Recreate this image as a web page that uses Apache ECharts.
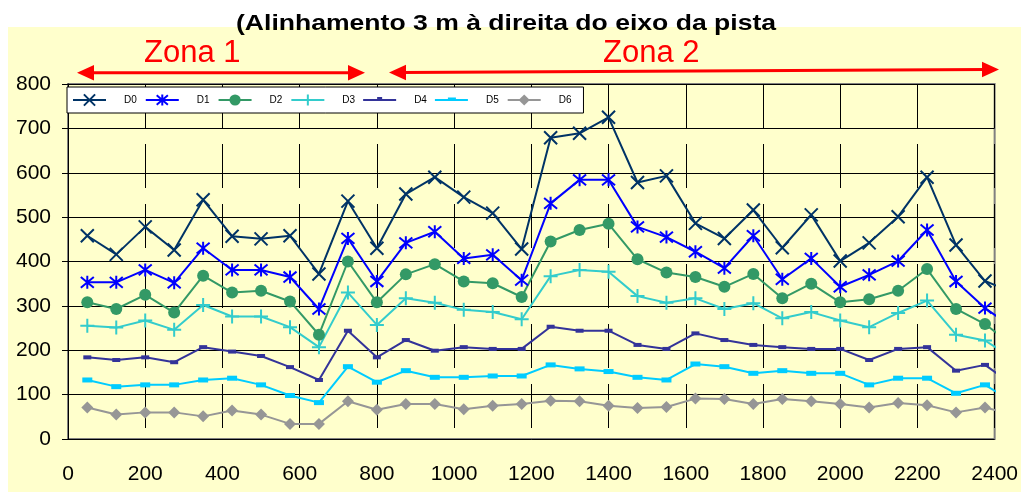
<!DOCTYPE html>
<html>
<head>
<meta charset="utf-8">
<script src="https://cdn.jsdelivr.net/npm/echarts@6/dist/echarts.min.js"></script>
<title>Alinhamento 3 m</title>
<style>html,body{margin:0;padding:0;background:#fff;}</style>
</head>
<body>
<div id="main" style="width:1021px;height:494px;"></div>
<script type="text/javascript">
// distancia ao longo da pista (m) - o ultimo ponto fica fora da escala, como no original
var distancias = [50, 125, 200, 275, 350, 425, 500, 575, 650, 725, 800,
  875, 950, 1025, 1100, 1175, 1250, 1325, 1400, 1475, 1550, 1625,
  1700, 1775, 1850, 1925, 2000, 2075, 2150, 2225, 2300, 2375, 2420];

var D0 = [458, 416, 478, 426, 539, 457, 451, 458, 372, 536, 430,
  552, 590, 545, 509, 428, 679, 689, 725, 578, 593, 486,
  452, 516, 431, 505, 401, 442, 501, 590, 437, 356, 340];
var D1 = [353, 353, 381, 352, 430, 381, 381, 365, 293, 452, 355,
  442, 467, 407, 415, 358, 531, 584, 584, 478, 455, 422,
  385, 458, 360, 407, 343, 370, 401, 471, 355, 295, 268];
var D2 = [308, 293, 325, 285, 368, 330, 334, 310, 235, 400, 308,
  371, 394, 355, 351, 320, 445, 471, 485, 405, 375, 365,
  343, 372, 317, 350, 308, 315, 334, 383, 293, 259, 229];
var D3 = [255, 251, 267, 246, 302, 276, 276, 252, 207, 330, 257,
  317, 307, 291, 286, 270, 367, 381, 377, 322, 307, 317,
  293, 306, 272, 286, 267, 252, 284, 312, 235, 222, 197];
var D4 = [184, 178, 184, 173, 207, 197, 187, 162, 133, 244, 184,
  223, 199, 207, 203, 203, 253, 244, 244, 212, 203, 238,
  223, 212, 207, 203, 203, 178, 203, 207, 154, 167, 139];
var D5 = [133, 118, 122, 122, 133, 137, 122, 98, 82, 163, 128,
  154, 139, 139, 142, 142, 167, 158, 152, 139, 133, 169,
  163, 148, 154, 148, 148, 122, 137, 137, 103, 122, 98];
var D6 = [71, 55, 60, 60, 51, 64, 55, 34, 34, 85, 66,
  79, 79, 67, 75, 79, 86, 85, 75, 70, 72, 91,
  90, 79, 90, 85, 79, 71, 81, 76, 60, 71, 61];

var nomes = ['D0', 'D1', 'D2', 'D3', 'D4', 'D5', 'D6'];
var valores = [D0, D1, D2, D3, D4, D5, D6];

// estilos
var cores = ['#003366', '#0000FF', '#339966', '#33CCCC', '#333399', '#00CCFF', '#969696'];
var simbolos = [
  'path://M0,0L10,10M10,0L0,10',
  'path://M0,0L10,10M10,0L0,10M5,-1L5,11',
  'circle',
  'path://M5,0L5,10M0,5L10,5',
  'rect',
  'rect',
  'diamond'
];
var tamanhos = [13, 13, 12, 14, [8, 4], [10, 5], 12];
var contorno = [2, 2, 0, 2, 0, 0, 0];
// icones da legenda para D4 e D5 (linha com traço pequeno por cima)
var iconesLegenda = {
  D4: 'path://M0,0L0,0M0,6L33,6L33,8L0,8ZM14,4L19,4L19,8L14,8ZM33,14L33,14',
  D5: 'path://M0,0L0,0M0,6L33,6L33,8L0,8ZM13,4.5L21,4.5L21,8L13,8ZM33,14L33,14'
};

var fonte = '"Liberation Sans", Arial, sans-serif';

var myChart = echarts.init(document.getElementById('main'));

var series = nomes.map(function (nome, i) {
  var dados = distancias.map(function (d, k) {
    var item = { value: [d, valores[i][k]] };
    if (k === distancias.length - 1) item.symbol = 'none';
    return item;
  });
  return {
    name: nome,
    type: 'line',
    data: dados,
    clip: false,
    symbol: simbolos[i],
    symbolSize: tamanhos[i],
    showAllSymbol: true,
    lineStyle: { color: cores[i], width: 2 },
    itemStyle: {
      color: contorno[i] ? 'rgba(0,0,0,0)' : cores[i],
      borderColor: cores[i],
      borderWidth: contorno[i]
    },
    emphasis: { disabled: true },
    z: 10 - i
  };
});

var legendaDados = nomes.map(function (nome) {
  return iconesLegenda[nome] ? { name: nome, icon: iconesLegenda[nome] } : { name: nome };
});

var option = {
  backgroundColor: '#ffffff',
  animation: false,
  legend: {
    data: legendaDados,
    left: 67,
    top: 87,
    orient: 'horizontal',
    padding: [6, 12, 6, 5],
    itemGap: 8,
    itemWidth: 33,
    itemHeight: 14,
    backgroundColor: '#ffffff',
    borderColor: '#000000',
    borderWidth: 1,
    borderRadius: 0,
    textStyle: { fontSize: 10, color: '#000', fontFamily: fonte, padding: [0, 0, 0, 13] },
    z: 20
  },
  grid: {
    left: 68,
    right: 24,
    top: 84,
    bottom: 55,
    show: true,
    backgroundColor: '#FFFFCC',
    borderColor: '#808080',
    borderWidth: 2
  },
  xAxis: {
    type: 'value',
    min: 0,
    max: 2400,
    interval: 200,
    axisLine: { show: false },
    axisTick: { show: false },
    axisLabel: {
      fontSize: 21, color: '#000', fontFamily: fonte, margin: 25,
      formatter: function (v) { return String(v); }
    },
    splitLine: { show: true, lineStyle: { color: '#000', width: 1, type: [44, 16] } }
  },
  yAxis: {
    type: 'value',
    min: 0,
    max: 800,
    interval: 100,
    axisLine: { show: true, lineStyle: { color: '#000', width: 1 } },
    axisTick: { show: true, inside: false, length: 6, lineStyle: { color: '#000' } },
    axisLabel: { fontSize: 21, color: '#000', fontFamily: fonte, margin: 17 },
    splitLine: { show: true, lineStyle: { color: '#000', width: 1 } }
  },
  graphic: [
    { type: 'rect', silent: true, z: -10, shape: { x: 8, y: 27, width: 1013, height: 465 }, style: { fill: '#FFFFCC' } },
    // titulo (esticado na horizontal como no original)
    { type: 'text', x: 236, y: 24, scaleX: 1.235, z: 30,
      style: { text: '(Alinhamento 3 m à direita do eixo da pista', fill: '#000', font: 'bold 21.5px ' + fonte, textVerticalAlign: 'middle', verticalAlign: 'middle' } },
    { type: 'text', x: 144, y: 53.5, style: { text: 'Zona 1', fill: '#FF0000', font: '31px ' + fonte, textVerticalAlign: 'middle', verticalAlign: 'middle' } },
    { type: 'text', x: 603, y: 53.5, style: { text: 'Zona 2', fill: '#FF0000', font: '31px ' + fonte, textVerticalAlign: 'middle', verticalAlign: 'middle' } },
    // seta zona 1
    { type: 'line', shape: { x1: 90, y1: 72.7, x2: 352, y2: 72.7 }, style: { stroke: '#FF0000', lineWidth: 3 } },
    { type: 'polygon', shape: { points: [[77, 72.7], [94, 65], [94, 80.4]] }, style: { fill: '#FF0000' } },
    { type: 'polygon', shape: { points: [[365, 72.7], [348, 65], [348, 80.4]] }, style: { fill: '#FF0000' } },
    // seta zona 2
    { type: 'line', shape: { x1: 402, y1: 72.4, x2: 986, y2: 69.6 }, style: { stroke: '#FF0000', lineWidth: 3 } },
    { type: 'polygon', shape: { points: [[389, 72.5], [406, 64.8], [406, 80.2]] }, style: { fill: '#FF0000' } },
    { type: 'polygon', shape: { points: [[999, 69.5], [982, 61.8], [982, 77.2]] }, style: { fill: '#FF0000' } }
  ],
  series: series
};

myChart.setOption(option);
</script>
</body>
</html>
